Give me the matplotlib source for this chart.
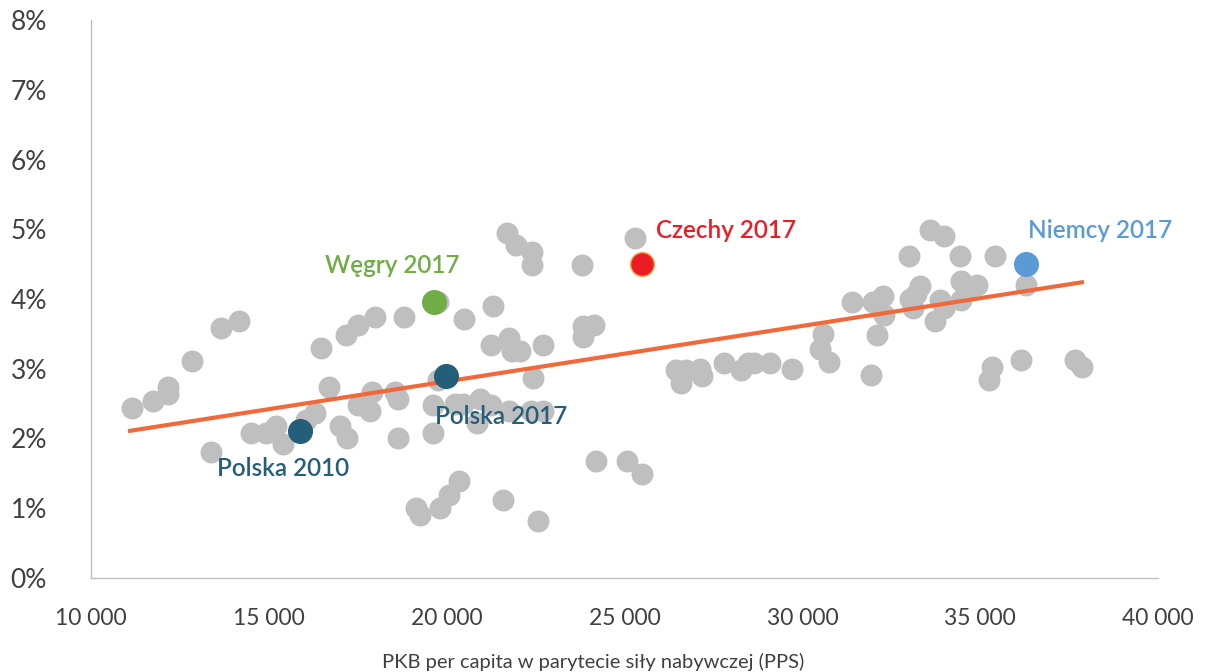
import matplotlib
matplotlib.use("Agg")
import matplotlib.pyplot as plt
from matplotlib.ticker import FuncFormatter

plt.rcParams['font.family'] = ['Lato', 'DejaVu Sans']

# gray background points: PKB per capita (PPS) vs growth (%)
gdp = [11150, 11740, 12160, 12160, 12840, 13370, 13650, 14160, 14500, 14920,
       15200, 15400, 16040, 16300, 16470, 16690, 17000, 17170, 17200, 17510,
       17510, 17840, 17980, 17900, 18550, 18630, 18630, 18800, 19140, 19250,
       19610, 19610, 19760, 19760, 19810, 20060, 20350, 20230, 20460, 20490,
       20850, 20940, 21250, 21300, 21250, 21580, 21700, 21750, 21840, 21750,
       21950, 22060, 22400, 22400, 22430, 22370, 22570, 22710, 22710, 23800,
       23830, 23830, 24140, 24200, 25070, 25290, 25490,
       26450, 26730, 26590, 27120, 27180, 27800, 28270, 28470, 28640, 29090,
       29710, 30500, 30580, 30750, 31400, 31930, 31980, 32100, 32270, 32290,
       33000, 33020, 33110, 33190, 33310, 33590, 33730, 33870, 33980, 33980,
       34430, 34460, 34460, 34630, 34910, 35250, 35330, 35410, 36150, 36290,
       37660, 37860]
growth = [2.44, 2.54, 2.74, 2.64, 3.11, 1.81, 3.58, 3.68, 2.08, 2.08,
          2.18, 1.92, 2.27, 2.37, 3.30, 2.74, 2.18, 3.48, 2.01, 3.63,
          2.48, 2.39, 3.74, 2.67, 2.67, 2.57, 2.01, 3.74, 1.00, 0.90,
          2.08, 2.48, 2.84, 3.96, 1.00, 1.19, 1.39, 2.49, 2.49, 3.71,
          2.22, 2.57, 2.48, 3.90, 3.34, 1.12, 4.95, 3.44, 3.25, 2.39,
          4.77, 3.25, 4.67, 4.49, 2.87, 2.39, 0.82, 3.34, 2.39, 4.49,
          3.46, 3.61, 3.63, 1.68, 1.68, 4.87, 1.49,
          2.98, 2.98, 2.80, 3.00, 2.90, 3.08, 2.98, 3.08, 3.08, 3.08,
          3.00, 3.28, 3.50, 3.10, 3.96, 2.91, 3.96, 3.48, 4.04, 3.77,
          4.62, 4.00, 3.87, 4.07, 4.19, 4.99, 3.68, 3.99, 4.90, 3.87,
          4.62, 4.26, 3.99, 4.13, 4.20, 2.84, 3.03, 4.62, 3.13, 4.20,
          3.13, 3.03]

# highlighted countries
hl_names = ['Polska 2010', 'Polska 2017', 'Węgry 2017', 'Czechy 2017', 'Niemcy 2017']
hl_gdp = [15880, 19980, 19640, 25490, 36290]
hl_growth = [2.11, 2.90, 3.96, 4.50, 4.50]
hl_colors = ['#255E79', '#255E79', '#70AD47', '#ED1C24', '#5B9BD5']
hl_edges = ['#255E79', '#255E79', '#70AD47', '#F4A13A', '#5B9BD5']
hl_offsets = [(-12, -27), (40, -29), (-30, 26), (10, 24), (53, 24)]
hl_ha = ['center', 'center', 'center', 'left', 'center']

# trend line endpoints
trend_x = [11100, 37860]
trend_y = [2.11, 4.24]

fig = plt.figure(figsize=(12.05, 6.72), dpi=100)
ax = fig.add_axes([0.0755, 0.140, 0.8855, 0.830])

ax.scatter(gdp, growth, s=250, color='#BFBFBF', linewidths=0, zorder=2)
ax.plot(trend_x, trend_y, color='#F0693A', linewidth=3, zorder=3)

for name, x, y, c, ec, off, ha in zip(hl_names, hl_gdp, hl_growth, hl_colors,
                                      hl_edges, hl_offsets, hl_ha):
    ax.scatter([x], [y], s=290, color=c, edgecolors=ec, linewidths=1, zorder=4)
    ax.annotate(name, (x, y), xytext=off, textcoords='offset points',
                ha=ha, va='center', color=c, fontsize=17.5, fontweight='semibold')

ax.set_xlim(10000, 40000)
ax.set_ylim(0, 8)
ax.set_xticks(range(10000, 40001, 5000))
ax.set_yticks(range(0, 9))
ax.xaxis.set_major_formatter(FuncFormatter(lambda v, p: f"{int(v):,}".replace(',', ' ')))
ax.yaxis.set_major_formatter(FuncFormatter(lambda v, p: f"{int(v)}%"))

for side in ['top', 'right']:
    ax.spines[side].set_visible(False)
for side in ['left', 'bottom']:
    ax.spines[side].set_color('#BFBFBF')
    ax.spines[side].set_linewidth(1)

ax.tick_params(axis='both', length=0, labelcolor='#404040')
ax.tick_params(axis='x', pad=22, labelsize=16.5)
ax.tick_params(axis='y', pad=58, labelsize=19)
for lab in ax.get_yticklabels():
    lab.set_horizontalalignment('left')

fig.text(593 / 1205, 1 - 662 / 672, 'PKB per capita w parytecie siły nabywczej (PPS)',
         fontsize=14.5, color='#404040', ha='center', va='center')

fig.savefig('out.png', dpi=100)
